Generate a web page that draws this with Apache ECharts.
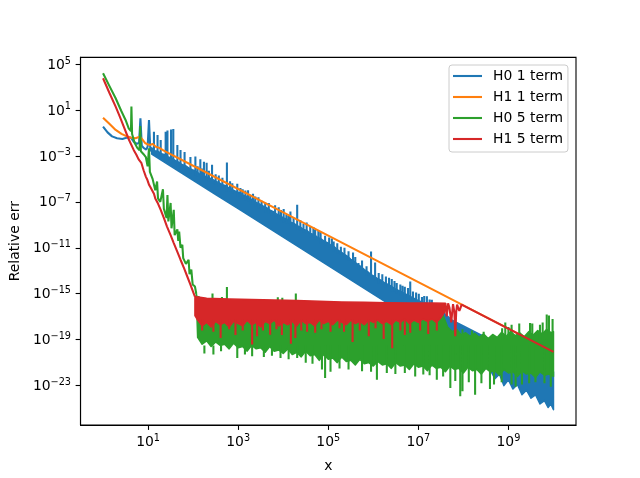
<!DOCTYPE html>
<html><head><meta charset="utf-8">
<script src="https://cdn.jsdelivr.net/npm/echarts@6/dist/echarts.min.js"></script>
<style>html,body{margin:0;padding:0;background:#fff}#c{width:640px;height:478px}</style>
</head><body><div id="c"></div>
<script>
// All values are [log10(x), log10(y)].
const seriesNames = ['H0 1 term', 'H1 1 term', 'H0 5 term', 'H1 5 term'];
const xTickExp = [1, 3, 5, 7, 9];
const yTickExp = [5, 1, -3, -7, -11, -15, -19, -23];

// H1 1 term (orange)
const orangeLine = [[0,0.33],[0.14,-0.2],[0.28,-0.74],[0.41,-1.08],[0.54,-1.32],[0.63,-1.42],[0.72,-1.46],[0.78,-1.38],[0.83,-1.37],[0.88,-1.6],[0.94,-1.9],[1.0,-2.0],[1.05,-2.04],[1.1,-1.95],[1.13,-1.96],[1.17,-2.2],[1.2,-2.33],[1.25,-2.3],[1.28,-2.42],[1.33,-2.5],[1.39,-2.63],[2.27,-4.4],[4.0,-7.92],[7.0,-13.99],[10,-20.06]];

// H0 1 term (blue)
const blueLine = [[0,-0.45],[0.1,-0.95],[0.2,-1.3],[0.31,-1.46],[0.43,-1.52],[0.5,-1.45],[0.57,-1.37],[0.62,-1.42],[0.68,-1.75],[0.75,-1.95],[0.8,-1.85],[0.83,0.28],[0.86,-2.1],[0.9,-2.3],[0.96,-2.45],[0.99,-2.2],[1.02,0.13],[1.05,-2.5],[1.08,-2.6]];
const blueTop = [[1.08,-2.3],[1.15,-2.55],[1.22,-2.6],[1.3,-2.8],[1.37,-2.9],[1.45,-3.1],[1.52,-3.2],[1.6,-3.4],[1.68,-3.55],[1.75,-3.75],[1.83,-3.85],[1.9,-4.05],[1.98,-4.2],[2.05,-4.3],[2.13,-4.55],[2.2,-4.6],[2.28,-4.8],[2.35,-4.9],[2.43,-5.05],[2.5,-5.2],[2.58,-5.35],[2.65,-5.5],[2.73,-5.6],[2.8,-5.8],[2.88,-5.95],[2.95,-6.1],[3.03,-6.2],[3.1,-6.4],[3.18,-6.5],[3.25,-6.7],[3.33,-6.85],[3.4,-7.05],[3.48,-7.2],[3.55,-7.35],[3.63,-7.5],[3.7,-7.7],[3.78,-7.85],[3.85,-8.05],[3.93,-8.2],[4.0,-8.4],[4.08,-8.5],[4.15,-8.75],[4.23,-8.85],[4.3,-9.05],[4.38,-9.2],[4.45,-9.4],[4.53,-9.5],[4.6,-9.75],[4.68,-9.85],[4.75,-10.05],[4.83,-10.2],[4.9,-10.4],[4.98,-10.55],[5.05,-10.75],[5.13,-10.9],[5.2,-11.15],[5.28,-11.35],[5.35,-11.55],[5.43,-11.75],[5.5,-12.0],[5.58,-12.2],[5.65,-12.45],[5.73,-12.65],[5.8,-12.9],[5.88,-13.1],[5.95,-13.35],[6.03,-13.5],[6.1,-13.7],[6.18,-13.85],[6.25,-14.05],[6.33,-14.2],[6.4,-14.35],[6.48,-14.55],[6.55,-14.7],[6.63,-14.85],[6.7,-15.0],[6.78,-15.15],[6.85,-15.3],[6.93,-15.45],[7.0,-15.6],[7.15,-15.8],[7.3,-16.05],[7.45,-16.35],[7.6,-16.8],[7.75,-17.3],[7.9,-17.6],[8.0,-17.8],[8.5,-18.8],[9.0,-19.8],[9.5,-20.8],[10.0,-21.8]];
const blueBottom = [[1.08,-2.84],[1.5,-3.88],[2.0,-5.12],[2.5,-6.36],[3.0,-7.6],[3.5,-8.84],[4.0,-10.08],[4.5,-11.32],[5.0,-12.56],[5.5,-13.8],[6.0,-15.04],[6.5,-16.28],[7.0,-17.52],[7.5,-18.76],[8.0,-20.0],[8.2,-20.9],[8.3,-20.6],[8.45,-21.6],[8.55,-21.3],[8.7,-22.4],[8.8,-22.0],[8.9,-23.0],[9.0,-22.5],[9.1,-23.3],[9.2,-22.9],[9.3,-23.8],[9.4,-23.4],[9.5,-24.1],[9.6,-23.8],[9.7,-24.6],[9.8,-24.3],[9.88,-24.9],[9.94,-24.6],[10.0,-25.1]];
// spikes: [log x, from, to]
const blueSpikes = [[1.13,-0.89,-2.9],[1.21,-1.17,-3.0],[1.28,-1.61,-3.1],[1.39,-0.89,-3.3],[1.43,-0.78,-3.4],[1.51,-0.7,-3.6],[1.56,-0.65,-3.7],[1.65,-2.04,-3.9],[1.72,-2.48,-4.0],[1.81,-2.65,-4.2],[1.94,-3.09,-4.5],[2.05,-3.06,-4.7],[2.1,-3.9,-4.8],[2.16,-3.29,-4.9],[2.2,-4.1,-5.0],[2.24,-3.5,-5.1],[2.3,-3.6,-5.1],[2.35,-4.3,-5.2],[2.42,-3.78,-5.4],[2.5,-4.6,-5.5],[2.57,-4.7,-5.7],[2.65,-4.9,-5.8],[2.75,-3.58,-6.1],[2.82,-5.2,-6.1],[2.87,-5.37,-6.3],[2.98,-5.43,-6.6],[3.05,-5.8,-6.7],[3.1,-5.9,-6.7],[3.16,-6.02,-6.9],[3.22,-6.0,-7.0],[3.27,-6.39,-7.2],[3.33,-6.3,-7.2],[3.38,-6.54,-7.4],[3.45,-6.6,-7.6],[3.52,-6.9,-7.7],[3.6,-7.06,-7.9],[3.68,-7.1,-8.0],[3.75,-7.84,-8.2],[3.82,-7.3,-8.3],[3.9,-7.46,-8.5],[3.95,-7.7,-8.6],[4.01,-7.63,-8.8],[4.07,-8.1,-8.9],[4.12,-8.2,-8.9],[4.16,-7.84,-9.1],[4.23,-8.4,-9.2],[4.31,-7.26,-9.4],[4.38,-8.6,-9.5],[4.45,-8.9,-9.7],[4.52,-8.8,-9.8],[4.6,-9.1,-10.1],[4.67,-9.2,-10.1],[4.71,-9.43,-10.3],[4.78,-9.5,-10.4],[4.83,-9.6,-10.6],[4.93,-9.96,-10.8],[5.02,-10.1,-11.0],[5.08,-10.2,-11.1],[5.12,-10.45,-11.3],[5.2,-10.6,-11.5],[5.28,-10.9,-11.6],[5.36,-11.0,-11.8],[5.45,-11.3,-12.1],[5.55,-11.4,-12.4],[5.6,-11.8,-12.5],[5.67,-12.33,-12.9],[5.75,-12.1,-12.9],[5.85,-12.6,-13.4],[5.95,-11.32,-13.7],[6.04,-12.28,-13.9],[6.12,-13.2,-14.1],[6.2,-13.3,-14.2],[6.28,-13.5,-14.5],[6.35,-13.6,-14.5],[6.41,-13.72,-14.8],[6.47,-13.9,-14.8],[6.52,-14.07,-15.0],[6.6,-14.2,-15.2],[6.65,-14.3,-15.2],[6.7,-14.4,-15.4],[6.77,-14.5,-15.4],[6.82,-13.93,-15.6],[6.88,-14.8,-15.6],[6.95,-14.9,-15.9],[7.01,-15.0,-15.9],[7.08,-15.29,-16.1],[7.13,-15.2,-16.0],[7.19,-15.23,-16.3],[7.25,-15.5,-16.2],[7.3,-15.52,-16.5]];

// H0 5 term (green)
const greenLine = [[0,4.19],[0.14,3.1],[0.28,2.02],[0.4,0.95],[0.5,0.13],[0.57,-0.6],[0.62,-0.85],[0.63,1.29],[0.645,-1.1],[0.7,-1.85],[0.76,-2.3],[0.81,-2.5],[0.825,-0.4],[0.84,-2.6],[0.9,-2.85],[0.95,-3.1],[0.99,-3.9],[1.02,-2.33],[1.04,-4.4],[1.1,-5.0],[1.16,-6.0],[1.2,-5.23],[1.22,-6.7],[1.27,-7.0],[1.33,-5.9],[1.35,-7.6],[1.41,-8.4],[1.43,-6.4],[1.45,-8.7],[1.5,-7.1],[1.52,-9.3],[1.57,-7.7],[1.59,-9.9],[1.65,-9.4],[1.67,-10.4],[1.69,-9.6],[1.72,-11.0],[1.76,-10.74],[1.78,-11.9],[1.84,-12.4],[1.9,-12.04],[1.92,-13.3],[1.96,-12.9],[1.99,-14.2],[2.04,-14.37],[2.07,-15.0]];
const greenTop = [[2.07,-15.0],[2.15,-16.3],[2.3,-16.6],[3,-16.6],[4,-16.7],[5,-16.7],[6,-16.8],[7,-16.8],[7.55,-16.9],[7.65,-17.9],[7.75,-18.3],[7.85,-18.1],[7.95,-18.6],[8.05,-18.4],[8.15,-18.7],[8.25,-18.45],[8.35,-18.8],[8.45,-18.5],[8.55,-18.9],[8.65,-18.55],[8.75,-18.8],[8.85,-18.35],[8.95,-18.7],[9.05,-18.3],[9.15,-18.65],[9.25,-18.4],[9.35,-18.75],[9.45,-18.3],[9.55,-18.6],[9.65,-18.2],[9.75,-18.5],[9.85,-18.1],[9.95,-18.4],[10,-18.3]];
const greenBottom = [[2.07,-15.2],[2.1,-18.8],[2.2,-19.4],[2.3,-19.1],[2.4,-19.6],[2.5,-19.2],[2.6,-19.5],[2.7,-19.4],[2.8,-19.8],[2.9,-19.3],[3.0,-19.7],[3.1,-19.6],[3.2,-20.0],[3.3,-19.5],[3.4,-19.8],[3.5,-19.7],[3.6,-20.1],[3.7,-19.6],[3.8,-20.0],[3.9,-19.9],[4.0,-20.2],[4.1,-19.8],[4.2,-20.3],[4.3,-20.1],[4.4,-20.5],[4.5,-20.0],[4.6,-20.4],[4.7,-20.3],[4.8,-20.8],[4.9,-20.3],[5.0,-20.7],[5.1,-20.6],[5.2,-21.0],[5.3,-20.5],[5.4,-20.9],[5.5,-20.8],[5.6,-21.2],[5.7,-20.7],[5.8,-21.1],[5.9,-21.0],[6.0,-21.3],[6.1,-20.9],[6.2,-21.2],[6.3,-21.1],[6.4,-21.5],[6.5,-21.0],[6.6,-21.3],[6.7,-21.2],[6.8,-21.6],[6.9,-21.1],[7.0,-21.4],[7.1,-21.3],[7.2,-21.7],[7.3,-21.2],[7.4,-21.5],[7.5,-21.4],[7.6,-21.8],[7.7,-21.3],[7.8,-21.6],[7.9,-21.5],[8.0,-21.9],[8.1,-21.4],[8.2,-21.7],[8.3,-21.6],[8.4,-22.0],[8.5,-21.5],[8.6,-21.8],[8.7,-21.7],[8.8,-22.1],[8.9,-21.6],[9.0,-21.9],[9.1,-21.8],[9.2,-22.2],[9.3,-21.7],[9.4,-22.0],[9.5,-21.9],[9.6,-22.3],[9.7,-21.8],[9.8,-22.1],[9.9,-22.0],[10,-22.2]];
const greenSpikes = [[2.12,-15.2,-17],[2.2,-15.3,-17],[2.43,-14.97,-17],[2.64,-15.29,-17],[2.75,-14.42,-17],[3.88,-15.3,-17],[3.98,-15.35,-17],[4.28,-14.97,-17],[7.98,-18.1,-19],[8.19,-18.2,-19],[8.45,-18.3,-19],[8.86,-18.0,-19],[8.93,-17.5,-19],[9.0,-17.9,-19],[9.07,-17.7,-19],[9.24,-17.6,-19],[9.48,-17.55,-19],[9.53,-17.6,-19],[9.7,-17.7,-19],[9.76,-17.5,-19],[9.85,-16.8,-19],[9.9,-16.9,-19],[9.98,-17.2,-19],
 [2.25,-19.5,-20.2],[2.45,-19.5,-20.3],[2.62,-19.5,-20.0],[2.98,-19.5,-20.6],[3.15,-19.5,-20.3],[3.31,-19.5,-20.45],[3.57,-19.5,-20.5],[3.75,-19.5,-20.4],[3.94,-19.5,-20.6],[4.12,-19.5,-20.7],[4.31,-19.5,-20.6],[4.5,-19.5,-21.0],[4.65,-19.5,-21.1],[4.86,-19.5,-21.6],[4.93,-19.5,-22.33],[5.05,-19.5,-21.8],[5.25,-19.5,-21.5],[5.45,-19.5,-21.6],[5.75,-19.5,-21.76],[5.95,-19.5,-21.8],[6.08,-19.5,-22.48],[6.3,-19.5,-21.9],[6.49,-19.5,-22.0],[6.7,-19.5,-21.9],[6.93,-19.5,-22.2],[7.11,-19.5,-22.04],[7.25,-19.5,-22.1],[7.41,-19.5,-22.5],[7.55,-19.5,-22.2],[7.71,-19.5,-23.2],[7.82,-19.5,-22.6],[7.93,-19.5,-23.93],[7.98,-19.5,-23.5],[8.12,-19.5,-22.7],[8.26,-19.5,-23.8],[8.4,-19.5,-22.8],[8.59,-19.5,-23.3],[8.68,-19.5,-22.9],[8.85,-19.5,-22.7],[9.07,-19.5,-22.9],[9.16,-19.5,-23.1],[9.3,-19.5,-22.9],[9.46,-19.5,-22.8],[9.6,-19.5,-22.7],[9.8,-19.5,-22.8],[9.94,-19.5,-23.1]];

// H1 5 term (red)
const redLine = [[0,3.76],[0.14,2.5],[0.28,1.29],[0.37,0.45],[0.46,-0.45],[0.57,-1.55],[0.68,-2.48],[0.74,-2.9],[0.79,-3.3],[0.85,-3.6],[0.9,-4.25],[0.95,-4.8],[0.98,-5.05],[1.02,-5.5],[1.05,-5.7],[1.09,-5.85],[1.13,-6.3],[1.16,-6.7],[1.22,-7.15],[1.28,-7.7],[1.35,-8.4],[1.42,-9.15],[1.5,-9.9],[1.57,-10.59],[1.65,-11.35],[1.72,-12.04],[1.8,-12.8],[1.87,-13.5],[1.94,-14.2],[2.01,-14.94],[2.04,-15.25]];
const redTail = [[7.6,-15.82],[7.615,-16.5],[7.63,-16.97],[7.645,-16.4],[7.66,-15.83],[7.69,-16.2],[7.71,-16.8],[7.73,-17.5],[7.75,-16.7],[7.77,-15.9],[7.8,-16.6],[7.82,-18.7],[7.84,-16.6],[7.86,-15.95],[7.89,-16.3],[7.91,-16.5],[7.93,-16.3],[7.96,-15.95],[8.0,-16.02],[10,-20.06]];
const redTop = [[2.04,-15.25],[2.3,-15.4],[2.8,-15.45],[3.3,-15.5],[3.8,-15.55],[4.3,-15.6],[4.8,-15.65],[5.3,-15.72],[5.8,-15.75],[6.3,-15.78],[6.8,-15.8],[7.3,-15.8],[7.6,-15.82]];
const redBottom = [[2.04,-16.9],[2.1,-17.3],[2.2,-17.8],[2.3,-17.5],[2.4,-17.9],[2.5,-17.4],[2.6,-17.7],[2.7,-17.5],[2.8,-17.9],[2.9,-17.4],[3.0,-17.6],[3.1,-17.8],[3.2,-17.3],[3.3,-17.7],[3.4,-17.5],[3.5,-17.9],[3.6,-17.4],[3.7,-17.6],[3.8,-17.3],[3.9,-17.8],[4.0,-17.5],[4.1,-17.7],[4.2,-17.4],[4.3,-17.8],[4.4,-17.3],[4.5,-17.6],[4.6,-17.5],[4.7,-17.8],[4.8,-17.3],[4.9,-17.6],[5.0,-17.4],[5.1,-17.7],[5.2,-17.3],[5.3,-17.5],[5.4,-17.7],[5.5,-17.3],[5.6,-17.6],[5.7,-17.4],[5.8,-17.7],[5.9,-17.3],[6.0,-17.5],[6.1,-17.3],[6.2,-17.6],[6.3,-17.4],[6.4,-17.7],[6.5,-17.3],[6.6,-17.5],[6.7,-17.2],[6.8,-17.6],[6.9,-17.3],[7.0,-17.5],[7.1,-17.2],[7.2,-17.4],[7.3,-17.2],[7.4,-17.5],[7.5,-17.1],[7.58,-16.6],[7.6,-15.82]];
const redSpikes = [[2.2,-17.2,-18.2],[2.45,-17.2,-18.3],[2.61,-17.2,-18.85],[2.8,-17.2,-18.1],[2.94,-17.2,-18.6],[3.1,-17.2,-18.2],[3.31,-17.2,-19.43],[3.42,-17.2,-18.7],[3.55,-17.2,-18.2],[3.71,-17.2,-18.57],[3.85,-17.2,-18.1],[3.97,-17.2,-18.6],[4.17,-17.2,-19.35],[4.27,-17.2,-18.85],[4.4,-17.2,-18.2],[4.53,-17.2,-18.3],[4.71,-17.2,-18.4],[4.85,-17.2,-18.1],[5.05,-17.2,-18.3],[5.25,-17.2,-18.0],[5.35,-17.2,-18.3],[5.54,-17.2,-19.2],[5.7,-17.2,-18.2],[5.9,-17.2,-18.7],[6.05,-17.2,-18.0],[6.23,-17.2,-18.95],[6.42,-17.2,-19.75],[6.6,-17.2,-18.2],[6.7,-17.2,-18.6],[6.82,-17.2,-18.4],[7.04,-17.2,-18.2],[7.22,-17.2,-18.5],[7.41,-17.2,-18.2]];

const COLORS = ['#1f77b4', '#ff7f0e', '#2ca02c', '#d62728'];
const FONT = 'DejaVu Sans';
const LW = 2.08;
const P = v => Math.pow(10, v);
const toData = pts => pts.map(p => [P(p[0]), P(p[1])]);
function spikeData(sp) {
  const out = [];
  sp.forEach(s => { out.push([P(s[0]), P(s[1])]); out.push([P(s[0]), P(s[2])]); out.push([P(s[0]), '-']); });
  return out;
}
function lineSeries(name, data, color, z) {
  return { type: 'line', name, data, z, symbol: 'none', showSymbol: false, connectNulls: false,
    lineStyle: { color, width: LW }, itemStyle: { color }, silent: true, animation: false, clip: true };
}
function joinParts() {
  const out = [];
  Array.from(arguments).forEach((part, i) => { if (i > 0) out.push([part[0][0], '-']); part.forEach(p => out.push(p)); });
  return out;
}
function bandSeries(name, top, bottom, color, z) {
  const pts = toData(top.concat(bottom.slice().reverse()));
  return { type: 'custom', name, z, silent: true, animation: false, clip: true,
    coordinateSystem: 'cartesian2d', encode: { x: 0, y: 1 }, data: pts,
    renderItem: function (params, api) {
      if (params.dataIndex !== 0) return null;
      return { type: 'polygon', shape: { points: pts.map(p => api.coord(p)) },
        style: { fill: color, stroke: color, lineWidth: 1.5, lineJoin: 'round' } };
    } };
}
function expLabel(v) {
  const e = Math.round(Math.log10(v));
  return '{b|10}{e|' + (e < 0 ? '\u2212' : '') + Math.abs(e) + '}';
}
const rich = {
  b: { fontFamily: FONT, fontSize: 13.9, color: '#000', lineHeight: 16, verticalAlign: 'bottom' },
  e: { fontFamily: FONT, fontSize: 9.7, color: '#000', lineHeight: 10, verticalAlign: 'top' }
};
const axisCommon = {
  type: 'log', logBase: 10,
  axisLine: { show: true, lineStyle: { color: '#000', width: 1.1 } },
  splitLine: { show: false }, minorTick: { show: false },
  nameTextStyle: { fontFamily: FONT, fontSize: 13.9, color: '#000' }
};

const chart = echarts.init(document.getElementById('c'), null, { renderer: 'canvas' });
chart.setOption({
  animation: false,
  backgroundColor: '#fff',
  grid: { left: 80, right: 64, top: 57.4, bottom: 52.6, show: true, borderColor: '#000', borderWidth: 1.1, backgroundColor: 'transparent' },
  xAxis: Object.assign({}, axisCommon, {
    min: P(-0.5), max: P(10.5),
    axisTick: { show: true, length: 4.9, customValues: xTickExp.map(P), lineStyle: { color: '#000', width: 1.1 } },
    axisLabel: { customValues: xTickExp.map(P), formatter: expLabel, rich, margin: 8 },
    name: 'x', nameLocation: 'middle', nameGap: 34
  }),
  yAxis: Object.assign({}, axisCommon, {
    min: P(-26.43), max: P(5.577),
    axisTick: { show: true, length: 4.9, customValues: yTickExp.map(P), lineStyle: { color: '#000', width: 1.1 } },
    axisLabel: { customValues: yTickExp.map(P), formatter: expLabel, rich, margin: 9.5 },
    name: 'Relative err', nameLocation: 'middle', nameGap: 52
  }),
  legend: {
    data: seriesNames, orient: 'vertical', left: 449, top: 65, icon: 'rect',
    backgroundColor: 'rgba(255,255,255,0.8)', borderColor: '#cccccc', borderWidth: 1, borderRadius: 3,
    padding: [4, 5, 6, 4], itemWidth: 29, itemHeight: 2.1, itemGap: 7, selectedMode: false,
    textStyle: { fontFamily: FONT, fontSize: 13.9, color: '#000', padding: [0, 0, 0, 6], lineHeight: 14 }
  },
  series: [
    lineSeries(seriesNames[0], joinParts(toData(blueLine), spikeData(blueSpikes)), COLORS[0], 2),
    lineSeries(seriesNames[1], toData(orangeLine), COLORS[1], 3),
    lineSeries(seriesNames[2], joinParts(toData(greenLine), spikeData(greenSpikes)), COLORS[2], 4),
    lineSeries(seriesNames[3], joinParts(toData(redLine), toData(redTail), spikeData(redSpikes)), COLORS[3], 5),
    bandSeries('H0 1 term band', blueTop, blueBottom, COLORS[0], 2),
    bandSeries('H0 5 term band', greenTop, greenBottom, COLORS[2], 4),
    bandSeries('H1 5 term band', redTop, redBottom, COLORS[3], 5)
  ]
});
</script></body></html>
